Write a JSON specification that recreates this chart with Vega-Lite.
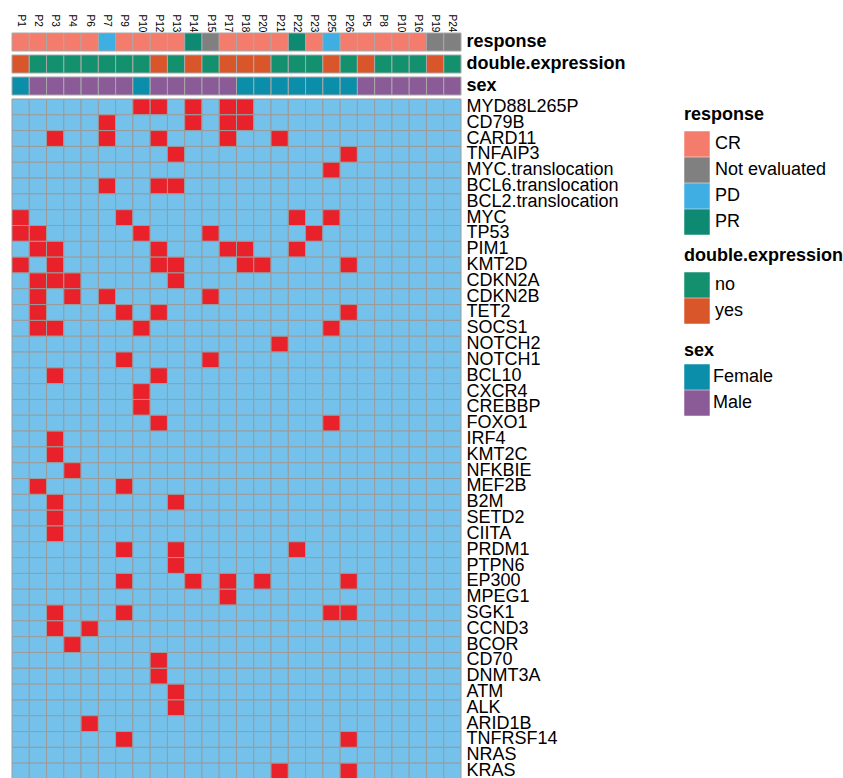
{
  "$schema": "https://vega.github.io/schema/vega-lite/v6.json",
  "padding": {"left": 11, "top": 13, "right": 0, "bottom": 0},
  "bounds": "flush",
  "spacing": 4,
  "resolve": {"scale": {"color": "independent", "x": "independent", "y": "independent"}, "legend": {"color": "independent"}},
  "config": {
    "view": {"stroke": null},
    "font": "Liberation Sans",
    "axis": {"labelColor": "#000000", "labelFont": "Liberation Sans"},
    "legend": {"labelFont": "Liberation Sans", "titleFont": "Liberation Sans"}
  },
  "datasets": {
    "annot": [
      {"patient": "P1", "response": "CR", "de": "yes", "sex": "Female"},
      {"patient": "P2", "response": "CR", "de": "no", "sex": "Male"},
      {"patient": "P3", "response": "CR", "de": "no", "sex": "Male"},
      {"patient": "P4", "response": "CR", "de": "no", "sex": "Male"},
      {"patient": "P6", "response": "CR", "de": "no", "sex": "Male"},
      {"patient": "P7", "response": "PD", "de": "no", "sex": "Male"},
      {"patient": "P9", "response": "CR", "de": "no", "sex": "Male"},
      {"patient": "P10", "response": "CR", "de": "no", "sex": "Female"},
      {"patient": "P12", "response": "CR", "de": "yes", "sex": "Male"},
      {"patient": "P13", "response": "CR", "de": "no", "sex": "Male"},
      {"patient": "P14", "response": "PR", "de": "yes", "sex": "Male"},
      {"patient": "P15", "response": "Not evaluated", "de": "no", "sex": "Male"},
      {"patient": "P17", "response": "CR", "de": "yes", "sex": "Male"},
      {"patient": "P18", "response": "CR", "de": "yes", "sex": "Female"},
      {"patient": "P20", "response": "CR", "de": "yes", "sex": "Female"},
      {"patient": "P21", "response": "CR", "de": "no", "sex": "Female"},
      {"patient": "P22", "response": "PR", "de": "no", "sex": "Female"},
      {"patient": "P23", "response": "CR", "de": "no", "sex": "Female"},
      {"patient": "P25", "response": "PD", "de": "yes", "sex": "Female"},
      {"patient": "P26", "response": "CR", "de": "no", "sex": "Female"},
      {"patient": "P5", "response": "CR", "de": "yes", "sex": "Male"},
      {"patient": "P8", "response": "CR", "de": "no", "sex": "Male"},
      {"patient": "P10b", "response": "CR", "de": "no", "sex": "Male"},
      {"patient": "P16", "response": "CR", "de": "no", "sex": "Male"},
      {"patient": "P19", "response": "Not evaluated", "de": "yes", "sex": "Male"},
      {"patient": "P24", "response": "Not evaluated", "de": "no", "sex": "Male"}
    ],
    "muts": [
      {"gene":"MYD88L265P","P1":0,"P2":0,"P3":0,"P4":0,"P6":0,"P7":0,"P9":0,"P10":1,"P12":1,"P13":0,"P14":1,"P15":0,"P17":1,"P18":1,"P20":0,"P21":0,"P22":0,"P23":0,"P25":0,"P26":0,"P5":0,"P8":0,"P10b":0,"P16":0,"P19":0,"P24":0},
      {"gene":"CD79B","P1":0,"P2":0,"P3":0,"P4":0,"P6":0,"P7":1,"P9":0,"P10":0,"P12":0,"P13":0,"P14":1,"P15":0,"P17":1,"P18":1,"P20":0,"P21":0,"P22":0,"P23":0,"P25":0,"P26":0,"P5":0,"P8":0,"P10b":0,"P16":0,"P19":0,"P24":0},
      {"gene":"CARD11","P1":0,"P2":0,"P3":1,"P4":0,"P6":0,"P7":1,"P9":0,"P10":0,"P12":1,"P13":0,"P14":0,"P15":0,"P17":1,"P18":0,"P20":0,"P21":1,"P22":0,"P23":0,"P25":0,"P26":0,"P5":0,"P8":0,"P10b":0,"P16":0,"P19":0,"P24":0},
      {"gene":"TNFAIP3","P1":0,"P2":0,"P3":0,"P4":0,"P6":0,"P7":0,"P9":0,"P10":0,"P12":0,"P13":1,"P14":0,"P15":0,"P17":0,"P18":0,"P20":0,"P21":0,"P22":0,"P23":0,"P25":0,"P26":1,"P5":0,"P8":0,"P10b":0,"P16":0,"P19":0,"P24":0},
      {"gene":"MYC.translocation","P1":0,"P2":0,"P3":0,"P4":0,"P6":0,"P7":0,"P9":0,"P10":0,"P12":0,"P13":0,"P14":0,"P15":0,"P17":0,"P18":0,"P20":0,"P21":0,"P22":0,"P23":0,"P25":1,"P26":0,"P5":0,"P8":0,"P10b":0,"P16":0,"P19":0,"P24":0},
      {"gene":"BCL6.translocation","P1":0,"P2":0,"P3":0,"P4":0,"P6":0,"P7":1,"P9":0,"P10":0,"P12":1,"P13":1,"P14":0,"P15":0,"P17":0,"P18":0,"P20":0,"P21":0,"P22":0,"P23":0,"P25":0,"P26":0,"P5":0,"P8":0,"P10b":0,"P16":0,"P19":0,"P24":0},
      {"gene":"BCL2.translocation","P1":0,"P2":0,"P3":0,"P4":0,"P6":0,"P7":0,"P9":0,"P10":0,"P12":0,"P13":0,"P14":0,"P15":0,"P17":0,"P18":0,"P20":0,"P21":0,"P22":0,"P23":0,"P25":0,"P26":0,"P5":0,"P8":0,"P10b":0,"P16":0,"P19":0,"P24":0},
      {"gene":"MYC","P1":1,"P2":0,"P3":0,"P4":0,"P6":0,"P7":0,"P9":1,"P10":0,"P12":0,"P13":0,"P14":0,"P15":0,"P17":0,"P18":0,"P20":0,"P21":0,"P22":1,"P23":0,"P25":1,"P26":0,"P5":0,"P8":0,"P10b":0,"P16":0,"P19":0,"P24":0},
      {"gene":"TP53","P1":1,"P2":1,"P3":0,"P4":0,"P6":0,"P7":0,"P9":0,"P10":1,"P12":0,"P13":0,"P14":0,"P15":1,"P17":0,"P18":0,"P20":0,"P21":0,"P22":0,"P23":1,"P25":0,"P26":0,"P5":0,"P8":0,"P10b":0,"P16":0,"P19":0,"P24":0},
      {"gene":"PIM1","P1":0,"P2":1,"P3":1,"P4":0,"P6":0,"P7":0,"P9":0,"P10":0,"P12":1,"P13":0,"P14":0,"P15":0,"P17":1,"P18":1,"P20":0,"P21":0,"P22":1,"P23":0,"P25":0,"P26":0,"P5":0,"P8":0,"P10b":0,"P16":0,"P19":0,"P24":0},
      {"gene":"KMT2D","P1":1,"P2":0,"P3":1,"P4":0,"P6":0,"P7":0,"P9":0,"P10":0,"P12":1,"P13":1,"P14":0,"P15":0,"P17":0,"P18":1,"P20":1,"P21":0,"P22":0,"P23":0,"P25":0,"P26":1,"P5":0,"P8":0,"P10b":0,"P16":0,"P19":0,"P24":0},
      {"gene":"CDKN2A","P1":0,"P2":1,"P3":1,"P4":1,"P6":0,"P7":0,"P9":0,"P10":0,"P12":0,"P13":1,"P14":0,"P15":0,"P17":0,"P18":0,"P20":0,"P21":0,"P22":0,"P23":0,"P25":0,"P26":0,"P5":0,"P8":0,"P10b":0,"P16":0,"P19":0,"P24":0},
      {"gene":"CDKN2B","P1":0,"P2":1,"P3":0,"P4":1,"P6":0,"P7":1,"P9":0,"P10":0,"P12":0,"P13":0,"P14":0,"P15":1,"P17":0,"P18":0,"P20":0,"P21":0,"P22":0,"P23":0,"P25":0,"P26":0,"P5":0,"P8":0,"P10b":0,"P16":0,"P19":0,"P24":0},
      {"gene":"TET2","P1":0,"P2":1,"P3":0,"P4":0,"P6":0,"P7":0,"P9":1,"P10":0,"P12":1,"P13":0,"P14":0,"P15":0,"P17":0,"P18":0,"P20":0,"P21":0,"P22":0,"P23":0,"P25":0,"P26":1,"P5":0,"P8":0,"P10b":0,"P16":0,"P19":0,"P24":0},
      {"gene":"SOCS1","P1":0,"P2":1,"P3":1,"P4":0,"P6":0,"P7":0,"P9":0,"P10":1,"P12":0,"P13":0,"P14":0,"P15":0,"P17":0,"P18":0,"P20":0,"P21":0,"P22":0,"P23":0,"P25":1,"P26":0,"P5":0,"P8":0,"P10b":0,"P16":0,"P19":0,"P24":0},
      {"gene":"NOTCH2","P1":0,"P2":0,"P3":0,"P4":0,"P6":0,"P7":0,"P9":0,"P10":0,"P12":0,"P13":0,"P14":0,"P15":0,"P17":0,"P18":0,"P20":0,"P21":1,"P22":0,"P23":0,"P25":0,"P26":0,"P5":0,"P8":0,"P10b":0,"P16":0,"P19":0,"P24":0},
      {"gene":"NOTCH1","P1":0,"P2":0,"P3":0,"P4":0,"P6":0,"P7":0,"P9":1,"P10":0,"P12":0,"P13":0,"P14":0,"P15":1,"P17":0,"P18":0,"P20":0,"P21":0,"P22":0,"P23":0,"P25":0,"P26":0,"P5":0,"P8":0,"P10b":0,"P16":0,"P19":0,"P24":0},
      {"gene":"BCL10","P1":0,"P2":0,"P3":1,"P4":0,"P6":0,"P7":0,"P9":0,"P10":0,"P12":1,"P13":0,"P14":0,"P15":0,"P17":0,"P18":0,"P20":0,"P21":0,"P22":0,"P23":0,"P25":0,"P26":0,"P5":0,"P8":0,"P10b":0,"P16":0,"P19":0,"P24":0},
      {"gene":"CXCR4","P1":0,"P2":0,"P3":0,"P4":0,"P6":0,"P7":0,"P9":0,"P10":1,"P12":0,"P13":0,"P14":0,"P15":0,"P17":0,"P18":0,"P20":0,"P21":0,"P22":0,"P23":0,"P25":0,"P26":0,"P5":0,"P8":0,"P10b":0,"P16":0,"P19":0,"P24":0},
      {"gene":"CREBBP","P1":0,"P2":0,"P3":0,"P4":0,"P6":0,"P7":0,"P9":0,"P10":1,"P12":0,"P13":0,"P14":0,"P15":0,"P17":0,"P18":0,"P20":0,"P21":0,"P22":0,"P23":0,"P25":0,"P26":0,"P5":0,"P8":0,"P10b":0,"P16":0,"P19":0,"P24":0},
      {"gene":"FOXO1","P1":0,"P2":0,"P3":0,"P4":0,"P6":0,"P7":0,"P9":0,"P10":0,"P12":1,"P13":0,"P14":0,"P15":0,"P17":0,"P18":0,"P20":0,"P21":0,"P22":0,"P23":0,"P25":1,"P26":0,"P5":0,"P8":0,"P10b":0,"P16":0,"P19":0,"P24":0},
      {"gene":"IRF4","P1":0,"P2":0,"P3":1,"P4":0,"P6":0,"P7":0,"P9":0,"P10":0,"P12":0,"P13":0,"P14":0,"P15":0,"P17":0,"P18":0,"P20":0,"P21":0,"P22":0,"P23":0,"P25":0,"P26":0,"P5":0,"P8":0,"P10b":0,"P16":0,"P19":0,"P24":0},
      {"gene":"KMT2C","P1":0,"P2":0,"P3":1,"P4":0,"P6":0,"P7":0,"P9":0,"P10":0,"P12":0,"P13":0,"P14":0,"P15":0,"P17":0,"P18":0,"P20":0,"P21":0,"P22":0,"P23":0,"P25":0,"P26":0,"P5":0,"P8":0,"P10b":0,"P16":0,"P19":0,"P24":0},
      {"gene":"NFKBIE","P1":0,"P2":0,"P3":0,"P4":1,"P6":0,"P7":0,"P9":0,"P10":0,"P12":0,"P13":0,"P14":0,"P15":0,"P17":0,"P18":0,"P20":0,"P21":0,"P22":0,"P23":0,"P25":0,"P26":0,"P5":0,"P8":0,"P10b":0,"P16":0,"P19":0,"P24":0},
      {"gene":"MEF2B","P1":0,"P2":1,"P3":0,"P4":0,"P6":0,"P7":0,"P9":1,"P10":0,"P12":0,"P13":0,"P14":0,"P15":0,"P17":0,"P18":0,"P20":0,"P21":0,"P22":0,"P23":0,"P25":0,"P26":0,"P5":0,"P8":0,"P10b":0,"P16":0,"P19":0,"P24":0},
      {"gene":"B2M","P1":0,"P2":0,"P3":1,"P4":0,"P6":0,"P7":0,"P9":0,"P10":0,"P12":0,"P13":1,"P14":0,"P15":0,"P17":0,"P18":0,"P20":0,"P21":0,"P22":0,"P23":0,"P25":0,"P26":0,"P5":0,"P8":0,"P10b":0,"P16":0,"P19":0,"P24":0},
      {"gene":"SETD2","P1":0,"P2":0,"P3":1,"P4":0,"P6":0,"P7":0,"P9":0,"P10":0,"P12":0,"P13":0,"P14":0,"P15":0,"P17":0,"P18":0,"P20":0,"P21":0,"P22":0,"P23":0,"P25":0,"P26":0,"P5":0,"P8":0,"P10b":0,"P16":0,"P19":0,"P24":0},
      {"gene":"CIITA","P1":0,"P2":0,"P3":1,"P4":0,"P6":0,"P7":0,"P9":0,"P10":0,"P12":0,"P13":0,"P14":0,"P15":0,"P17":0,"P18":0,"P20":0,"P21":0,"P22":0,"P23":0,"P25":0,"P26":0,"P5":0,"P8":0,"P10b":0,"P16":0,"P19":0,"P24":0},
      {"gene":"PRDM1","P1":0,"P2":0,"P3":0,"P4":0,"P6":0,"P7":0,"P9":1,"P10":0,"P12":0,"P13":1,"P14":0,"P15":0,"P17":0,"P18":0,"P20":0,"P21":0,"P22":1,"P23":0,"P25":0,"P26":0,"P5":0,"P8":0,"P10b":0,"P16":0,"P19":0,"P24":0},
      {"gene":"PTPN6","P1":0,"P2":0,"P3":0,"P4":0,"P6":0,"P7":0,"P9":0,"P10":0,"P12":0,"P13":1,"P14":0,"P15":0,"P17":0,"P18":0,"P20":0,"P21":0,"P22":0,"P23":0,"P25":0,"P26":0,"P5":0,"P8":0,"P10b":0,"P16":0,"P19":0,"P24":0},
      {"gene":"EP300","P1":0,"P2":0,"P3":0,"P4":0,"P6":0,"P7":0,"P9":1,"P10":0,"P12":0,"P13":0,"P14":1,"P15":0,"P17":1,"P18":0,"P20":1,"P21":0,"P22":0,"P23":0,"P25":0,"P26":1,"P5":0,"P8":0,"P10b":0,"P16":0,"P19":0,"P24":0},
      {"gene":"MPEG1","P1":0,"P2":0,"P3":0,"P4":0,"P6":0,"P7":0,"P9":0,"P10":0,"P12":0,"P13":0,"P14":0,"P15":0,"P17":1,"P18":0,"P20":0,"P21":0,"P22":0,"P23":0,"P25":0,"P26":0,"P5":0,"P8":0,"P10b":0,"P16":0,"P19":0,"P24":0},
      {"gene":"SGK1","P1":0,"P2":0,"P3":1,"P4":0,"P6":0,"P7":0,"P9":1,"P10":0,"P12":0,"P13":0,"P14":0,"P15":0,"P17":0,"P18":0,"P20":0,"P21":0,"P22":0,"P23":0,"P25":1,"P26":1,"P5":0,"P8":0,"P10b":0,"P16":0,"P19":0,"P24":0},
      {"gene":"CCND3","P1":0,"P2":0,"P3":1,"P4":0,"P6":1,"P7":0,"P9":0,"P10":0,"P12":0,"P13":0,"P14":0,"P15":0,"P17":0,"P18":0,"P20":0,"P21":0,"P22":0,"P23":0,"P25":0,"P26":0,"P5":0,"P8":0,"P10b":0,"P16":0,"P19":0,"P24":0},
      {"gene":"BCOR","P1":0,"P2":0,"P3":0,"P4":1,"P6":0,"P7":0,"P9":0,"P10":0,"P12":0,"P13":0,"P14":0,"P15":0,"P17":0,"P18":0,"P20":0,"P21":0,"P22":0,"P23":0,"P25":0,"P26":0,"P5":0,"P8":0,"P10b":0,"P16":0,"P19":0,"P24":0},
      {"gene":"CD70","P1":0,"P2":0,"P3":0,"P4":0,"P6":0,"P7":0,"P9":0,"P10":0,"P12":1,"P13":0,"P14":0,"P15":0,"P17":0,"P18":0,"P20":0,"P21":0,"P22":0,"P23":0,"P25":0,"P26":0,"P5":0,"P8":0,"P10b":0,"P16":0,"P19":0,"P24":0},
      {"gene":"DNMT3A","P1":0,"P2":0,"P3":0,"P4":0,"P6":0,"P7":0,"P9":0,"P10":0,"P12":1,"P13":0,"P14":0,"P15":0,"P17":0,"P18":0,"P20":0,"P21":0,"P22":0,"P23":0,"P25":0,"P26":0,"P5":0,"P8":0,"P10b":0,"P16":0,"P19":0,"P24":0},
      {"gene":"ATM","P1":0,"P2":0,"P3":0,"P4":0,"P6":0,"P7":0,"P9":0,"P10":0,"P12":0,"P13":1,"P14":0,"P15":0,"P17":0,"P18":0,"P20":0,"P21":0,"P22":0,"P23":0,"P25":0,"P26":0,"P5":0,"P8":0,"P10b":0,"P16":0,"P19":0,"P24":0},
      {"gene":"ALK","P1":0,"P2":0,"P3":0,"P4":0,"P6":0,"P7":0,"P9":0,"P10":0,"P12":0,"P13":1,"P14":0,"P15":0,"P17":0,"P18":0,"P20":0,"P21":0,"P22":0,"P23":0,"P25":0,"P26":0,"P5":0,"P8":0,"P10b":0,"P16":0,"P19":0,"P24":0},
      {"gene":"ARID1B","P1":0,"P2":0,"P3":0,"P4":0,"P6":1,"P7":0,"P9":0,"P10":0,"P12":0,"P13":0,"P14":0,"P15":0,"P17":0,"P18":0,"P20":0,"P21":0,"P22":0,"P23":0,"P25":0,"P26":0,"P5":0,"P8":0,"P10b":0,"P16":0,"P19":0,"P24":0},
      {"gene":"TNFRSF14","P1":0,"P2":0,"P3":0,"P4":0,"P6":0,"P7":0,"P9":1,"P10":0,"P12":0,"P13":0,"P14":0,"P15":0,"P17":0,"P18":0,"P20":0,"P21":0,"P22":0,"P23":0,"P25":0,"P26":1,"P5":0,"P8":0,"P10b":0,"P16":0,"P19":0,"P24":0},
      {"gene":"NRAS","P1":0,"P2":0,"P3":0,"P4":0,"P6":0,"P7":0,"P9":0,"P10":0,"P12":0,"P13":0,"P14":0,"P15":0,"P17":0,"P18":0,"P20":0,"P21":0,"P22":0,"P23":0,"P25":0,"P26":0,"P5":0,"P8":0,"P10b":0,"P16":0,"P19":0,"P24":0},
      {"gene":"KRAS","P1":0,"P2":0,"P3":0,"P4":0,"P6":0,"P7":0,"P9":0,"P10":0,"P12":0,"P13":0,"P14":0,"P15":0,"P17":0,"P18":0,"P20":0,"P21":1,"P22":0,"P23":0,"P25":0,"P26":1,"P5":0,"P8":0,"P10b":0,"P16":0,"P19":0,"P24":0}
    ]
  },
  "vconcat": [
    {
      "data": {"name": "annot"},
      "width": 449,
      "height": 18,
      "mark": {"type": "rect", "stroke": "#a8a8a8", "strokeWidth": 1},
      "encoding": {
        "x": {
          "field": "patient", "type": "nominal",
          "scale": {"domain": ["P1","P2","P3","P4","P6","P7","P9","P10","P12","P13","P14","P15","P17","P18","P20","P21","P22","P23","P25","P26","P5","P8","P10b","P16","P19","P24"], "paddingInner": 0, "paddingOuter": 0},
          "axis": {"orient": "top", "labelAngle": 90, "labelAlign": "left", "labelBaseline": "middle", "labelPadding": 19, "ticks": false, "domain": false, "title": null, "labelFontSize": 10, "labelExpr": "replace(datum.label, 'b', '')"}
        },
        "y": {"datum": "response", "type": "nominal", "axis": {"orient": "right", "ticks": false, "domain": false, "title": null, "labelFontSize": 18, "labelFontWeight": "bold", "labelPadding": 5}},
        "color": {
          "field": "response", "type": "nominal",
          "scale": {"domain": ["CR", "Not evaluated", "PD", "PR"], "range": ["#F47C6C", "#808080", "#3FAEE2", "#0E8A72"]},
          "legend": {"title": "response", "orient": "none", "legendX": 672, "legendY": 73, "symbolType": "square", "symbolSize": 650, "symbolStrokeWidth": 0, "labelFontSize": 18, "titleFontSize": 18, "titleFontWeight": "bold", "rowPadding": 0, "labelOffset": 5, "titlePadding": 7, "padding": 0}
        }
      }
    },
    {
      "data": {"name": "annot"},
      "width": 449,
      "height": 18,
      "mark": {"type": "rect", "stroke": "#a8a8a8", "strokeWidth": 1},
      "encoding": {
        "x": {
          "field": "patient", "type": "nominal",
          "scale": {"domain": ["P1","P2","P3","P4","P6","P7","P9","P10","P12","P13","P14","P15","P17","P18","P20","P21","P22","P23","P25","P26","P5","P8","P10b","P16","P19","P24"], "paddingInner": 0, "paddingOuter": 0},
          "axis": null
        },
        "y": {"datum": "double.expression", "type": "nominal", "axis": {"orient": "right", "ticks": false, "domain": false, "title": null, "labelFontSize": 18, "labelFontWeight": "bold", "labelPadding": 5}},
        "color": {
          "field": "de", "type": "nominal",
          "scale": {"domain": ["no", "yes"], "range": ["#13906E", "#D9552A"]},
          "legend": {"title": "double.expression", "orient": "none", "legendX": 672, "legendY": 192, "symbolType": "square", "symbolSize": 650, "symbolStrokeWidth": 0, "labelFontSize": 18, "titleFontSize": 18, "titleFontWeight": "bold", "rowPadding": 0, "labelOffset": 5, "titlePadding": 7, "padding": 0}
        }
      }
    },
    {
      "data": {"name": "annot"},
      "width": 449,
      "height": 18,
      "mark": {"type": "rect", "stroke": "#a8a8a8", "strokeWidth": 1},
      "encoding": {
        "x": {
          "field": "patient", "type": "nominal",
          "scale": {"domain": ["P1","P2","P3","P4","P6","P7","P9","P10","P12","P13","P14","P15","P17","P18","P20","P21","P22","P23","P25","P26","P5","P8","P10b","P16","P19","P24"], "paddingInner": 0, "paddingOuter": 0},
          "axis": null
        },
        "y": {"datum": "sex", "type": "nominal", "axis": {"orient": "right", "ticks": false, "domain": false, "title": null, "labelFontSize": 18, "labelFontWeight": "bold", "labelPadding": 5}},
        "color": {
          "field": "sex", "type": "nominal",
          "scale": {"domain": ["Female", "Male"], "range": ["#0B8EAA", "#8A5B97"]},
          "legend": {"title": "sex", "orient": "none", "legendX": 672, "legendY": 265, "symbolType": "square", "symbolSize": 650, "symbolStrokeWidth": 0, "labelFontSize": 18, "titleFontSize": 18, "titleFontWeight": "bold", "rowPadding": 0, "labelOffset": 3, "titlePadding": 4, "padding": 0}
        }
      }
    },
    {
      "data": {"name": "muts"},
      "transform": [
        {"fold": ["P1","P2","P3","P4","P6","P7","P9","P10","P12","P13","P14","P15","P17","P18","P20","P21","P22","P23","P25","P26","P5","P8","P10b","P16","P19","P24"], "as": ["patient", "mut"]}
      ],
      "width": 449,
      "height": 680,
      "mark": {"type": "rect", "stroke": "#9b9b9b", "strokeWidth": 1},
      "encoding": {
        "x": {
          "field": "patient", "type": "nominal",
          "scale": {"domain": ["P1","P2","P3","P4","P6","P7","P9","P10","P12","P13","P14","P15","P17","P18","P20","P21","P22","P23","P25","P26","P5","P8","P10b","P16","P19","P24"], "paddingInner": 0, "paddingOuter": 0},
          "axis": null
        },
        "y": {
          "field": "gene", "type": "nominal",
          "scale": {"domain": ["MYD88L265P","CD79B","CARD11","TNFAIP3","MYC.translocation","BCL6.translocation","BCL2.translocation","MYC","TP53","PIM1","KMT2D","CDKN2A","CDKN2B","TET2","SOCS1","NOTCH2","NOTCH1","BCL10","CXCR4","CREBBP","FOXO1","IRF4","KMT2C","NFKBIE","MEF2B","B2M","SETD2","CIITA","PRDM1","PTPN6","EP300","MPEG1","SGK1","CCND3","BCOR","CD70","DNMT3A","ATM","ALK","ARID1B","TNFRSF14","NRAS","KRAS"], "paddingInner": 0, "paddingOuter": 0},
          "axis": {"orient": "right", "ticks": false, "domain": false, "title": null, "labelFontSize": 18, "labelPadding": 5, "labelOverlap": false, "labelLimit": 0}
        },
        "color": {
          "field": "mut", "type": "nominal",
          "scale": {"domain": [0, 1], "range": ["#74C2EB", "#E8212B"]},
          "legend": null
        }
      }
    }
  ]
}
